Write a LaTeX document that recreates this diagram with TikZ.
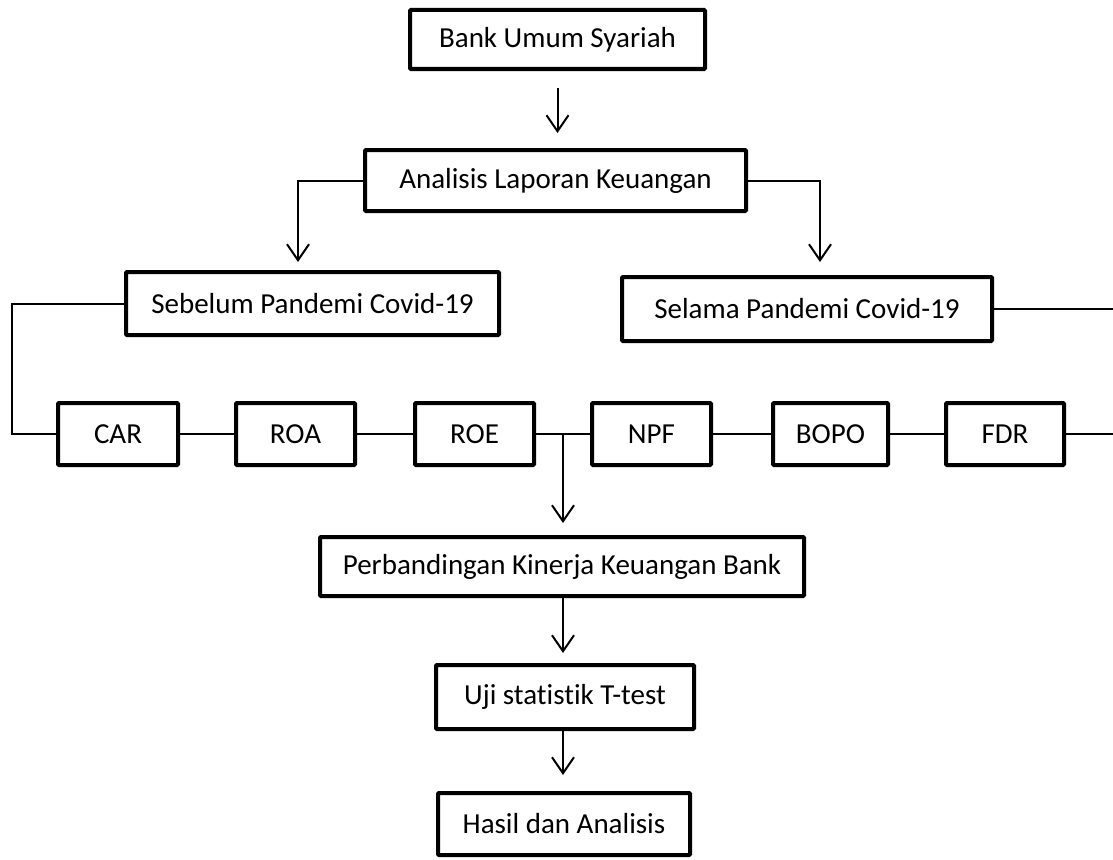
\documentclass[tikz,border=0pt]{standalone}
\usepackage{fontspec}
\setmainfont{Carlito}[Ligatures={NoCommon}]
\usetikzlibrary{arrows.meta}
\tikzset{
  box/.style={draw, line width=4pt, rounded corners=1pt, inner sep=0pt, fill=white,
    font=\fontsize{29}{34}\selectfont},
  conn/.style={line width=2pt},
  arr/.style={line width=2pt, -{Straight Barb[length=16pt,width=22pt,line width=2pt]}},
}
\newcommand{\bx}[6]{% name, left, top, right, bottom, text
  \node[box, minimum width={#4-#2-4pt}, minimum height={#5-#3-4pt}]
    (#1) at ({(#2+#4)/2},{(#3+#5)/2}) {#6};}
\begin{document}
\begin{tikzpicture}[x=1pt,y=-1pt]
\useasboundingbox (0,0) rectangle (1113,859);
\bx{bank}{408}{8}{707}{71}{Bank Umum Syariah}
\bx{ana}{363}{148}{748}{213}{Analisis Laporan Keuangan}
\bx{seb}{124}{270}{501}{337}{Sebelum Pandemi Covid-19}
\bx{sel}{620}{275}{994}{343}{Selama Pandemi Covid-19}
\bx{car}{56}{401}{180}{467}{CAR}
\bx{roa}{234}{401}{357}{467}{ROA}
\bx{roe}{413}{401}{536}{467}{ROE}
\bx{npf}{590}{401}{713}{467}{NPF}
\bx{bopo}{771}{401}{890}{467}{BOPO}
\bx{fdr}{944}{401}{1066}{467}{FDR}
\bx{perb}{318}{535}{806}{598}{Perbandingan Kinerja Keuangan Bank}
\bx{uji}{434}{663}{696}{731}{Uji statistik T-test}
\bx{hasil}{436}{791}{692}{857}{Hasil dan Analisis}

\coordinate (ltip) at (298,262);
\coordinate (rtip) at (820,262);
\coordinate (lcorner) at (12,370);
\coordinate (rend1) at (1113,309);
\coordinate (rend2) at (1113,434);
\coordinate (junc) at (563,434);
\coordinate (jtip) at (563,523);

\draw[arr, shorten <=17pt, shorten >=15pt] (bank.south) -- (bank.south |- ana.north);
\draw[arr] (ana.west) -| (ltip);
\draw[arr] (ana.east) -| (rtip);
\draw[conn] (seb.west) -| (lcorner) |- (car.west);
\draw[conn] (sel.east |- rend1) -- (rend1);
\draw[conn] (fdr.east) -- (rend2);
\draw[conn] (car.east) -- (roa.west);
\draw[conn] (roa.east) -- (roe.west);
\draw[conn] (roe.east) -- (npf.west);
\draw[conn] (npf.east) -- (bopo.west);
\draw[conn] (bopo.east) -- (fdr.west);
\draw[arr] (junc) -- (jtip);
\draw[arr, shorten >=10pt] (junc |- perb.south) -- (junc |- uji.north);
\draw[arr, shorten >=16pt] (junc |- uji.south) -- (junc |- hasil.north);
\end{tikzpicture}
\end{document}
